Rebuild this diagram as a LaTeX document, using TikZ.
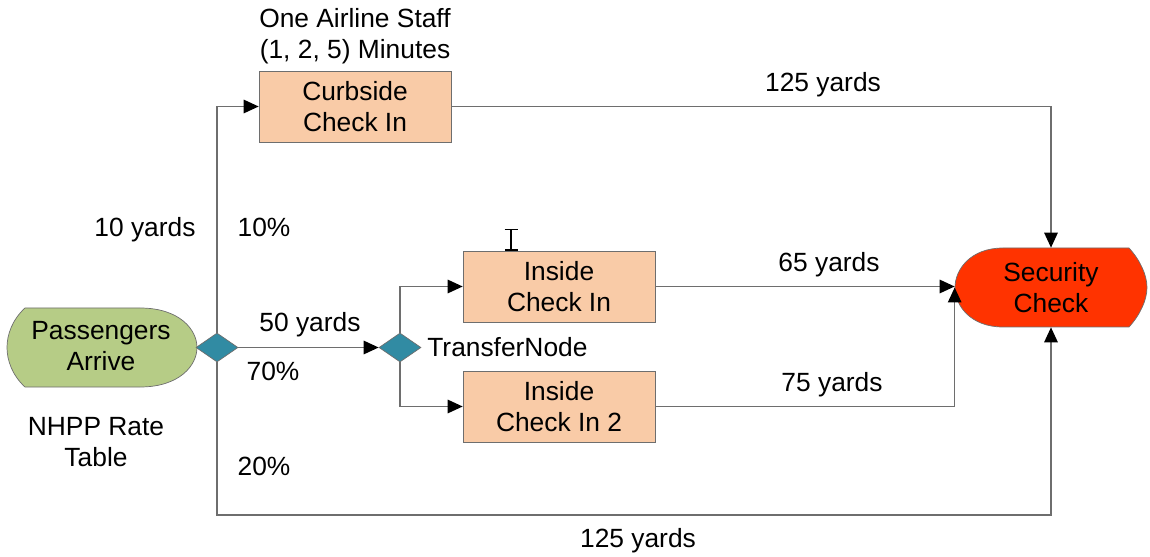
\documentclass[tikz,border=0pt]{standalone}
\usepackage{fontspec}
\setmainfont{Liberation Sans}
\usetikzlibrary{arrows.meta,shapes.geometric,positioning}

\definecolor{boxfill}{RGB}{249,203,167}
\definecolor{arrivefill}{RGB}{182,204,134}
\definecolor{decidefill}{RGB}{49,139,163}
\definecolor{checkfill}{RGB}{255,51,0}
\definecolor{linegray}{RGB}{110,110,110}

\begin{document}
\begin{tikzpicture}[
		x=0.02cm, y=-0.02cm,
		station/.style={
			rectangle,
			draw=linegray,
			fill=boxfill,
			minimum width=3.84cm,
			minimum height=1.42cm,
			align=center,
			inner sep=0pt,
		},
		decide/.style={
			diamond,
			draw=linegray,
			fill=decidefill,
			minimum width=0.84cm,
			minimum height=0.58cm,
			inner sep=0pt,
		},
		endpoint/.style={
			rectangle,
			minimum width=3.84cm,
			minimum height=1.58cm,
			align=center,
			inner sep=0pt,
		},
		lbl/.style={inner sep=0pt, align=center},
		link/.style={draw=linegray, line width=0.8pt},
		font=\fontsize{15}{17.6}\selectfont,
		>={Triangle[length=0.3cm,width=0.27cm,color=black]}
		]
		\useasboundingbox (0,0) rectangle (1150,557);
		% Draw the arrival and exit shapes
		\draw[draw=linegray, fill=arrivefill] (25,308) -- (140,308)
			.. controls (180,308) and (197,330) .. (197,347.5)
			.. controls (197,365) and (180,387) .. (140,387) -- (25,387)
			.. controls (12,375) and (7,360) .. (7,347.5)
			.. controls (7,335) and (12,320) .. (25,308) -- cycle;
		\draw[draw=linegray, fill=checkfill] (1003,248) -- (1129,248)
			.. controls (1140,260) and (1147,275) .. (1147,287.5)
			.. controls (1147,300) and (1140,315) .. (1129,327) -- (1003,327)
			.. controls (970,327) and (955,305) .. (955,287.5)
			.. controls (955,270) and (970,248) .. (1003,248) -- cycle;
		\node [endpoint] (arrive) at (101,346.5) {Passengers\\Arrive};
		\node [endpoint] (security) at (1051,287.5) {Security\\Check};
		% Draw the check in stations
		\node [station] (curbside) at (355,106.5) {Curbside\\Check In};
		\node [station] (inside) at (559,286.5) {Inside\\Check In};
		\node [station] (inside2) at (559,406.5) {Inside\\Check In 2};
		% Draw the decide nodes
		\node [decide] (split) at (217,347.5) {};
		\node [decide] (transfer) at (400,347.5) {};
		\coordinate (low) at (217,515);
		% Draw the connectors
		\draw[link,->] (split.north) |- (curbside.west);
		\draw[link,->] (split.east) -- (transfer.west);
		\draw[link,->] (split.south) -- (low) -| (security.south);
		\draw[link,->] (transfer.north) |- (inside.west);
		\draw[link,->] (transfer.south) |- (inside2.west);
		\draw[link,->] (curbside.east) -| (security.north);
		\draw[link,->] (inside.east) -- (inside.east -| security.west);
		\draw[link,->] (inside2.east) -| (security.west);
		% Draw the resource marker
		\draw[{Bar[width=0.26cm]}-{Bar[width=0.26cm]}, line width=0.8pt]
			([xshift=-0.96cm]inside.north) -- ++(0,-22);
		% Draw the labels
		\node[lbl] (staff) at (355,36.5) {One Airline Staff\\(1, 2, 5) Minutes};
		\node[lbl] (d125top) at (823,85) {125 yards};
		\node[lbl] (d10) at (145,230) {10 yards};
		\node[lbl] (p10) at (264,227) {10\%};
		\node[lbl] (d50) at (310,325) {50 yards};
		\node[lbl] (p70) at (273,371) {70\%};
		\node[lbl, anchor=west] (tname) at (427,347) {TransferNode};
		\node[lbl] (d65) at (829,265) {65 yards};
		\node[lbl] (d75) at (832,385) {75 yards};
		\node[lbl] (rate) at (96,442) {NHPP Rate\\Table};
		\node[lbl] (p20) at (264,466) {20\%};
		\node[lbl] (d125low) at (638,541) {125 yards};
	\end{tikzpicture}
\end{document}
